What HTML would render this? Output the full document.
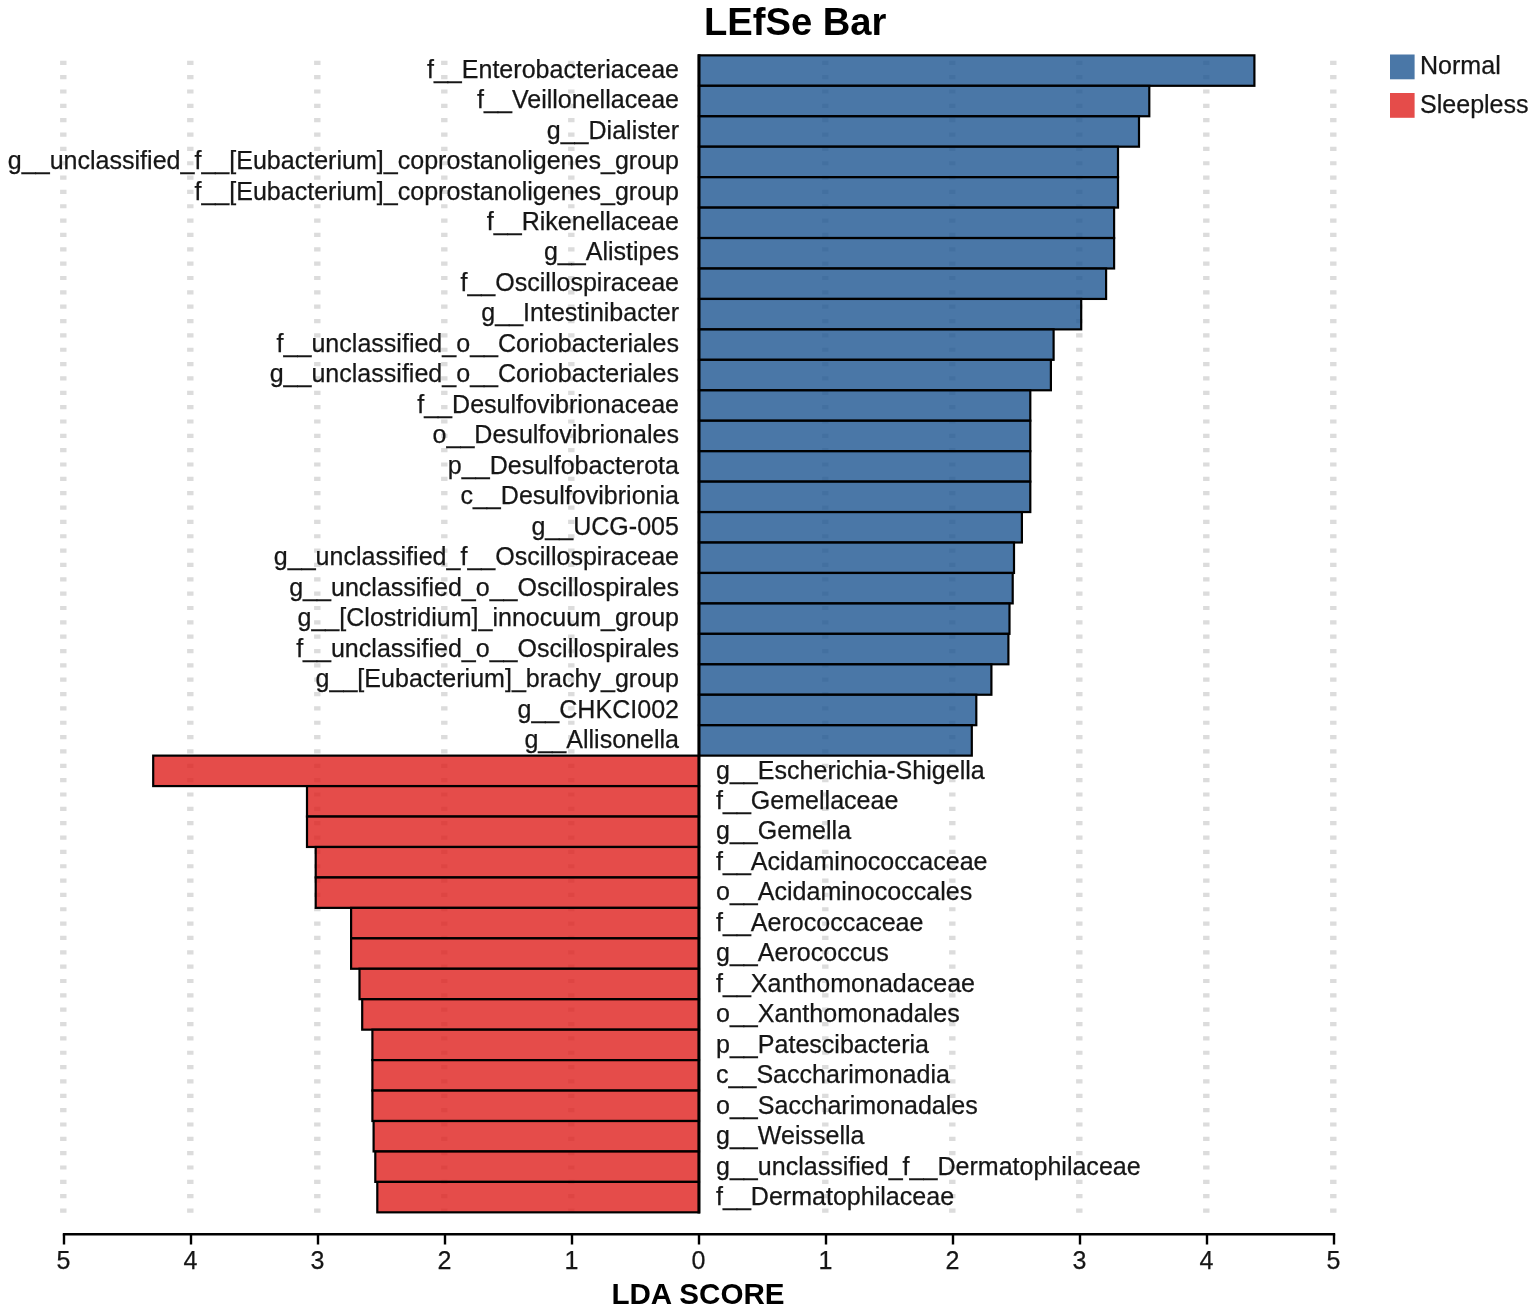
<!DOCTYPE html><html><head><meta charset="utf-8"><title>LEfSe Bar</title><style>html,body{margin:0;padding:0;background:#fff}svg{display:block}text{font-family:"Liberation Sans",sans-serif;fill:#161616;stroke:#161616;stroke-width:0.25px}</style></head><body>
<svg width="1535" height="1313" viewBox="0 0 1535 1313">
<rect width="1535" height="1313" fill="#fff"/>
<line x1="63.3" y1="60.7" x2="63.3" y2="1214" stroke="#dcdcdc" stroke-width="6.4" stroke-dasharray="4.2 10.147" opacity="1"/>
<line x1="190.3" y1="60.7" x2="190.3" y2="1214" stroke="#dcdcdc" stroke-width="6.4" stroke-dasharray="4.2 10.147" opacity="1"/>
<line x1="317.3" y1="60.7" x2="317.3" y2="1214" stroke="#dcdcdc" stroke-width="6.4" stroke-dasharray="4.2 10.147" opacity="1"/>
<line x1="444.3" y1="60.7" x2="444.3" y2="1214" stroke="#dcdcdc" stroke-width="6.4" stroke-dasharray="4.2 10.147" opacity="1"/>
<line x1="571.3" y1="60.7" x2="571.3" y2="1214" stroke="#dcdcdc" stroke-width="6.4" stroke-dasharray="4.2 10.147" opacity="1"/>
<line x1="825.3" y1="60.7" x2="825.3" y2="1214" stroke="#dcdcdc" stroke-width="6.4" stroke-dasharray="4.2 10.147" opacity="1"/>
<line x1="952.3" y1="60.7" x2="952.3" y2="1214" stroke="#dcdcdc" stroke-width="6.4" stroke-dasharray="4.2 10.147" opacity="1"/>
<line x1="1079.3" y1="60.7" x2="1079.3" y2="1214" stroke="#dcdcdc" stroke-width="6.4" stroke-dasharray="4.2 10.147" opacity="1"/>
<line x1="1206.3" y1="60.7" x2="1206.3" y2="1214" stroke="#dcdcdc" stroke-width="6.4" stroke-dasharray="4.2 10.147" opacity="1"/>
<line x1="1333.3" y1="60.7" x2="1333.3" y2="1214" stroke="#dcdcdc" stroke-width="6.4" stroke-dasharray="4.2 10.147" opacity="1"/>
<rect x="699.0" y="55.35" width="555.4" height="30.45" fill="#1d5591" fill-opacity="0.8" stroke="#000" stroke-width="2.2"/>
<rect x="699.0" y="85.80" width="450.3" height="30.45" fill="#1d5591" fill-opacity="0.8" stroke="#000" stroke-width="2.2"/>
<rect x="699.0" y="116.24" width="440.0" height="30.45" fill="#1d5591" fill-opacity="0.8" stroke="#000" stroke-width="2.2"/>
<rect x="699.0" y="146.69" width="419.0" height="30.45" fill="#1d5591" fill-opacity="0.8" stroke="#000" stroke-width="2.2"/>
<rect x="699.0" y="177.14" width="419.0" height="30.45" fill="#1d5591" fill-opacity="0.8" stroke="#000" stroke-width="2.2"/>
<rect x="699.0" y="207.58" width="415.1" height="30.45" fill="#1d5591" fill-opacity="0.8" stroke="#000" stroke-width="2.2"/>
<rect x="699.0" y="238.03" width="415.1" height="30.45" fill="#1d5591" fill-opacity="0.8" stroke="#000" stroke-width="2.2"/>
<rect x="699.0" y="268.48" width="407.1" height="30.45" fill="#1d5591" fill-opacity="0.8" stroke="#000" stroke-width="2.2"/>
<rect x="699.0" y="298.93" width="382.2" height="30.45" fill="#1d5591" fill-opacity="0.8" stroke="#000" stroke-width="2.2"/>
<rect x="699.0" y="329.37" width="354.6" height="30.45" fill="#1d5591" fill-opacity="0.8" stroke="#000" stroke-width="2.2"/>
<rect x="699.0" y="359.82" width="351.9" height="30.45" fill="#1d5591" fill-opacity="0.8" stroke="#000" stroke-width="2.2"/>
<rect x="699.0" y="390.27" width="331.3" height="30.45" fill="#1d5591" fill-opacity="0.8" stroke="#000" stroke-width="2.2"/>
<rect x="699.0" y="420.71" width="331.3" height="30.45" fill="#1d5591" fill-opacity="0.8" stroke="#000" stroke-width="2.2"/>
<rect x="699.0" y="451.16" width="331.3" height="30.45" fill="#1d5591" fill-opacity="0.8" stroke="#000" stroke-width="2.2"/>
<rect x="699.0" y="481.61" width="331.3" height="30.45" fill="#1d5591" fill-opacity="0.8" stroke="#000" stroke-width="2.2"/>
<rect x="699.0" y="512.05" width="322.9" height="30.45" fill="#1d5591" fill-opacity="0.8" stroke="#000" stroke-width="2.2"/>
<rect x="699.0" y="542.50" width="315.0" height="30.45" fill="#1d5591" fill-opacity="0.8" stroke="#000" stroke-width="2.2"/>
<rect x="699.0" y="572.95" width="313.7" height="30.45" fill="#1d5591" fill-opacity="0.8" stroke="#000" stroke-width="2.2"/>
<rect x="699.0" y="603.40" width="310.5" height="30.45" fill="#1d5591" fill-opacity="0.8" stroke="#000" stroke-width="2.2"/>
<rect x="699.0" y="633.84" width="309.4" height="30.45" fill="#1d5591" fill-opacity="0.8" stroke="#000" stroke-width="2.2"/>
<rect x="699.0" y="664.29" width="292.4" height="30.45" fill="#1d5591" fill-opacity="0.8" stroke="#000" stroke-width="2.2"/>
<rect x="699.0" y="694.74" width="277.3" height="30.45" fill="#1d5591" fill-opacity="0.8" stroke="#000" stroke-width="2.2"/>
<rect x="699.0" y="725.18" width="272.8" height="30.45" fill="#1d5591" fill-opacity="0.8" stroke="#000" stroke-width="2.2"/>
<rect x="153.2" y="755.63" width="545.8" height="30.45" fill="#de1f1d" fill-opacity="0.8" stroke="#000" stroke-width="2.2"/>
<rect x="307.0" y="786.08" width="392.0" height="30.45" fill="#de1f1d" fill-opacity="0.8" stroke="#000" stroke-width="2.2"/>
<rect x="307.0" y="816.52" width="392.0" height="30.45" fill="#de1f1d" fill-opacity="0.8" stroke="#000" stroke-width="2.2"/>
<rect x="315.7" y="846.97" width="383.3" height="30.45" fill="#de1f1d" fill-opacity="0.8" stroke="#000" stroke-width="2.2"/>
<rect x="315.7" y="877.42" width="383.3" height="30.45" fill="#de1f1d" fill-opacity="0.8" stroke="#000" stroke-width="2.2"/>
<rect x="351.1" y="907.87" width="347.9" height="30.45" fill="#de1f1d" fill-opacity="0.8" stroke="#000" stroke-width="2.2"/>
<rect x="351.1" y="938.31" width="347.9" height="30.45" fill="#de1f1d" fill-opacity="0.8" stroke="#000" stroke-width="2.2"/>
<rect x="359.5" y="968.76" width="339.5" height="30.45" fill="#de1f1d" fill-opacity="0.8" stroke="#000" stroke-width="2.2"/>
<rect x="362.2" y="999.21" width="336.8" height="30.45" fill="#de1f1d" fill-opacity="0.8" stroke="#000" stroke-width="2.2"/>
<rect x="372.4" y="1029.65" width="326.6" height="30.45" fill="#de1f1d" fill-opacity="0.8" stroke="#000" stroke-width="2.2"/>
<rect x="372.4" y="1060.10" width="326.6" height="30.45" fill="#de1f1d" fill-opacity="0.8" stroke="#000" stroke-width="2.2"/>
<rect x="372.4" y="1090.55" width="326.6" height="30.45" fill="#de1f1d" fill-opacity="0.8" stroke="#000" stroke-width="2.2"/>
<rect x="373.6" y="1120.99" width="325.4" height="30.45" fill="#de1f1d" fill-opacity="0.8" stroke="#000" stroke-width="2.2"/>
<rect x="375.3" y="1151.44" width="323.7" height="30.45" fill="#de1f1d" fill-opacity="0.8" stroke="#000" stroke-width="2.2"/>
<rect x="377.3" y="1181.89" width="321.7" height="30.45" fill="#de1f1d" fill-opacity="0.8" stroke="#000" stroke-width="2.2"/>
<line x1="698.95" y1="54.25" x2="698.95" y2="1213.44" stroke="#000" stroke-width="3"/>
<text x="679" y="77.6" font-size="25.05" text-anchor="end">f__Enterobacteriaceae</text>
<text x="679" y="108.1" font-size="25.05" text-anchor="end">f__Veillonellaceae</text>
<text x="679" y="138.5" font-size="25.05" text-anchor="end">g__Dialister</text>
<text x="679" y="169.0" font-size="25.05" text-anchor="end">g__unclassified_f__[Eubacterium]_coprostanoligenes_group</text>
<text x="679" y="199.5" font-size="25.05" text-anchor="end">f__[Eubacterium]_coprostanoligenes_group</text>
<text x="679" y="230.0" font-size="25.05" text-anchor="end">f__Rikenellaceae</text>
<text x="679" y="260.4" font-size="25.05" text-anchor="end">g__Alistipes</text>
<text x="679" y="290.9" font-size="25.05" text-anchor="end">f__Oscillospiraceae</text>
<text x="679" y="321.4" font-size="25.05" text-anchor="end">g__Intestinibacter</text>
<text x="679" y="351.9" font-size="25.05" text-anchor="end">f__unclassified_o__Coriobacteriales</text>
<text x="679" y="382.3" font-size="25.05" text-anchor="end">g__unclassified_o__Coriobacteriales</text>
<text x="679" y="412.8" font-size="25.05" text-anchor="end">f__Desulfovibrionaceae</text>
<text x="679" y="443.3" font-size="25.05" text-anchor="end">o__Desulfovibrionales</text>
<text x="679" y="473.7" font-size="25.05" text-anchor="end">p__Desulfobacterota</text>
<text x="679" y="504.2" font-size="25.05" text-anchor="end">c__Desulfovibrionia</text>
<text x="679" y="534.7" font-size="25.05" text-anchor="end">g__UCG-005</text>
<text x="679" y="565.2" font-size="25.05" text-anchor="end">g__unclassified_f__Oscillospiraceae</text>
<text x="679" y="595.6" font-size="25.05" text-anchor="end">g__unclassified_o__Oscillospirales</text>
<text x="679" y="626.1" font-size="25.05" text-anchor="end">g__[Clostridium]_innocuum_group</text>
<text x="679" y="656.6" font-size="25.05" text-anchor="end">f__unclassified_o__Oscillospirales</text>
<text x="679" y="687.1" font-size="25.05" text-anchor="end">g__[Eubacterium]_brachy_group</text>
<text x="679" y="717.5" font-size="25.05" text-anchor="end">g__CHKCI002</text>
<text x="679" y="748.0" font-size="25.05" text-anchor="end">g__Allisonella</text>
<text x="716" y="778.5" font-size="25.05">g__Escherichia-Shigella</text>
<text x="716" y="809.0" font-size="25.05">f__Gemellaceae</text>
<text x="716" y="839.4" font-size="25.05">g__Gemella</text>
<text x="716" y="869.9" font-size="25.05">f__Acidaminococcaceae</text>
<text x="716" y="900.4" font-size="25.05">o__Acidaminococcales</text>
<text x="716" y="930.8" font-size="25.05">f__Aerococcaceae</text>
<text x="716" y="961.3" font-size="25.05">g__Aerococcus</text>
<text x="716" y="991.8" font-size="25.05">f__Xanthomonadaceae</text>
<text x="716" y="1022.3" font-size="25.05">o__Xanthomonadales</text>
<text x="716" y="1052.7" font-size="25.05">p__Patescibacteria</text>
<text x="716" y="1083.2" font-size="25.05">c__Saccharimonadia</text>
<text x="716" y="1113.7" font-size="25.05">o__Saccharimonadales</text>
<text x="716" y="1144.2" font-size="25.05">g__Weissella</text>
<text x="716" y="1174.6" font-size="25.05">g__unclassified_f__Dermatophilaceae</text>
<text x="716" y="1205.1" font-size="25.05">f__Dermatophilaceae</text>
<line x1="62.8" y1="1234.3" x2="1335.2" y2="1234.3" stroke="#000" stroke-width="2.4"/>
<line x1="64.0" y1="1234.3" x2="64.0" y2="1244.5" stroke="#000" stroke-width="2.4"/>
<text x="63.4" y="1268.9" font-size="25.05" text-anchor="middle">5</text>
<line x1="191.0" y1="1234.3" x2="191.0" y2="1244.5" stroke="#000" stroke-width="2.4"/>
<text x="190.4" y="1268.9" font-size="25.05" text-anchor="middle">4</text>
<line x1="318.0" y1="1234.3" x2="318.0" y2="1244.5" stroke="#000" stroke-width="2.4"/>
<text x="317.4" y="1268.9" font-size="25.05" text-anchor="middle">3</text>
<line x1="445.0" y1="1234.3" x2="445.0" y2="1244.5" stroke="#000" stroke-width="2.4"/>
<text x="444.4" y="1268.9" font-size="25.05" text-anchor="middle">2</text>
<line x1="572.0" y1="1234.3" x2="572.0" y2="1244.5" stroke="#000" stroke-width="2.4"/>
<text x="571.4" y="1268.9" font-size="25.05" text-anchor="middle">1</text>
<line x1="699.0" y1="1234.3" x2="699.0" y2="1244.5" stroke="#000" stroke-width="2.4"/>
<text x="698.4" y="1268.9" font-size="25.05" text-anchor="middle">0</text>
<line x1="826.0" y1="1234.3" x2="826.0" y2="1244.5" stroke="#000" stroke-width="2.4"/>
<text x="825.4" y="1268.9" font-size="25.05" text-anchor="middle">1</text>
<line x1="953.0" y1="1234.3" x2="953.0" y2="1244.5" stroke="#000" stroke-width="2.4"/>
<text x="952.4" y="1268.9" font-size="25.05" text-anchor="middle">2</text>
<line x1="1080.0" y1="1234.3" x2="1080.0" y2="1244.5" stroke="#000" stroke-width="2.4"/>
<text x="1079.4" y="1268.9" font-size="25.05" text-anchor="middle">3</text>
<line x1="1207.0" y1="1234.3" x2="1207.0" y2="1244.5" stroke="#000" stroke-width="2.4"/>
<text x="1206.4" y="1268.9" font-size="25.05" text-anchor="middle">4</text>
<line x1="1334.0" y1="1234.3" x2="1334.0" y2="1244.5" stroke="#000" stroke-width="2.4"/>
<text x="1333.4" y="1268.9" font-size="25.05" text-anchor="middle">5</text>
<text x="698" y="1303.5" font-size="29.6" font-weight="bold" text-anchor="middle" style="fill:#000;stroke:none">LDA SCORE</text>
<text x="795.2" y="34.5" font-size="38.2" font-weight="bold" text-anchor="middle" style="fill:#000;stroke:none">LEfSe Bar</text>
<rect x="1390" y="54.5" width="24.6" height="24.8" fill="#4a77a7"/>
<rect x="1390" y="93" width="24.6" height="24.8" fill="#e54c4a"/>
<text x="1420" y="74" font-size="25.05">Normal</text>
<text x="1420" y="112.5" font-size="25.05">Sleepless</text>
</svg></body></html>
